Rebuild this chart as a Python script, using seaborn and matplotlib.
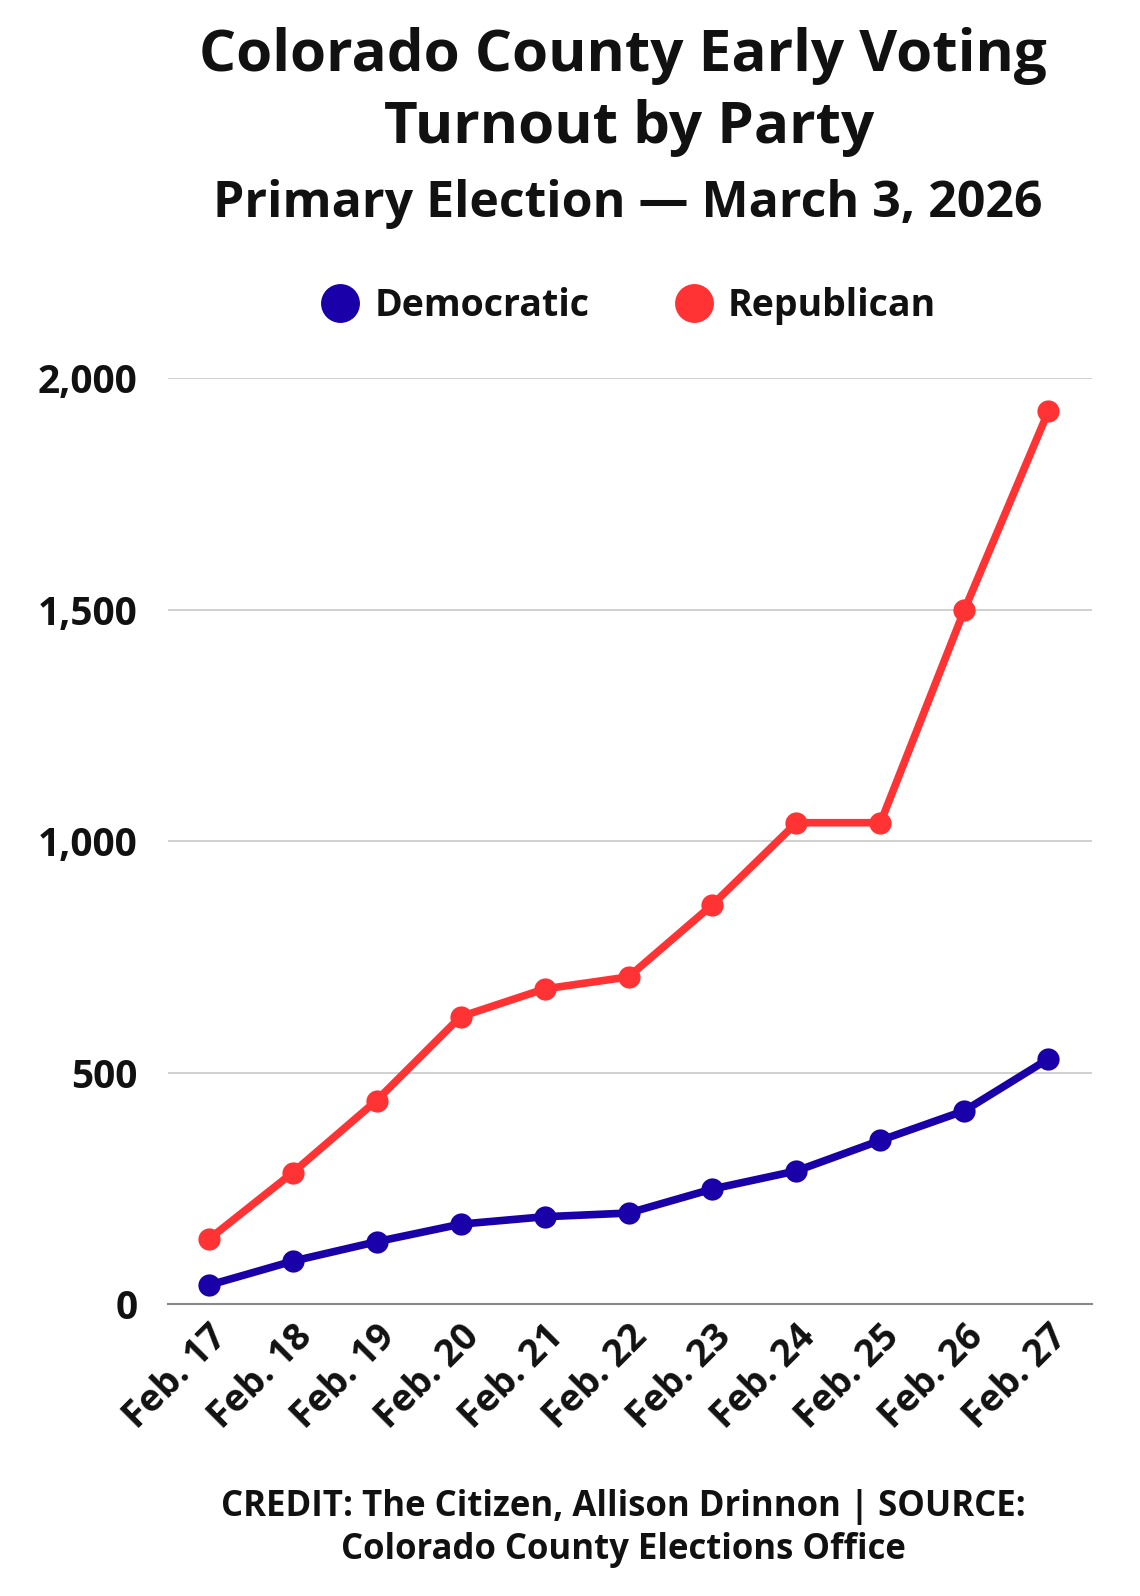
import matplotlib
matplotlib.use("Agg")
import matplotlib.pyplot as plt
from matplotlib.lines import Line2D
import seaborn as sns
import pandas as pd

dates = ["Feb. 17", "Feb. 18", "Feb. 19", "Feb. 20", "Feb. 21", "Feb. 22",
         "Feb. 23", "Feb. 24", "Feb. 25", "Feb. 26", "Feb. 27"]
democratic = [41, 93, 135, 173, 189, 197, 249, 288, 354, 418, 530]
republican = [140, 284, 440, 621, 681, 707, 863, 1040, 1040, 1500, 1929]
parties = ["Democratic", "Republican"]
colors = {"Democratic": "#1A00A8", "Republican": "#FF3333"}
yticks = [0, 500, 1000, 1500, 2000]

df = pd.DataFrame({
    "date": dates * 2,
    "x": list(range(len(dates))) * 2,
    "votes": democratic + republican,
    "party": ["Democratic"] * len(dates) + ["Republican"] * len(dates),
})

sns.set_theme(style="white")
plt.rcParams["font.family"] = ["Open Sans", "DejaVu Sans"]
plt.rcParams["font.weight"] = "bold"

fig = plt.figure(figsize=(11.4, 15.96), dpi=100)
ax = fig.add_axes([0.1476, 0.1828, 0.958 - 0.1476, 0.763 - 0.1828])

sns.lineplot(data=df, x="x", y="votes", hue="party", hue_order=parties,
             palette=colors, marker="o", markersize=16, markeredgewidth=0,
             linewidth=5.5, legend=False, ax=ax, zorder=3)

ax.set_xlim(-0.48, 10.52)
ax.set_ylim(0, 2000)
ax.set_yticks(yticks)
ax.set_yticklabels([f"{v:,}" for v in yticks])
ax.set_xticks(range(len(dates)))
ax.set_xticklabels(dates, rotation=45, ha="right", rotation_mode="anchor")
ax.tick_params(axis="y", length=0, pad=22, labelsize=28)
ax.tick_params(axis="x", length=0, pad=10, labelsize=27)
for lab in ax.get_xticklabels() + ax.get_yticklabels():
    lab.set_fontweight("bold")
    lab.set_color("#111111")

ax.set_xlabel("")
ax.set_ylabel("")
ax.grid(axis="y", color="#c8c8c8", linewidth=1.2)
ax.grid(axis="x", visible=False)
for s in ["top", "right", "left"]:
    ax.spines[s].set_visible(False)
ax.spines["bottom"].set_color("#888888")
ax.spines["bottom"].set_linewidth(1.5)
ax.set_axisbelow(True)

fig.text(0.546, 0.965, "Colorado County Early Voting", ha="center", va="center",
         fontsize=42, fontweight="bold", color="#111111")
fig.text(0.552, 0.920, "Turnout by Party", ha="center", va="center",
         fontsize=42, fontweight="bold", color="#111111")
fig.text(0.551, 0.872, "Primary Election \u2014 March 3, 2026", ha="center", va="center",
         fontsize=36, fontweight="bold", color="#111111")

handles = [Line2D([], [], linestyle="none", marker="o", markersize=28,
                  markerfacecolor=colors[p], markeredgewidth=0) for p in parties]
leg = fig.legend(handles, parties, loc="center", bbox_to_anchor=(0.55, 0.808),
                 ncol=2, frameon=False, fontsize=27, handletextpad=0.3,
                 columnspacing=2.2, handlelength=1.2)
for t in leg.get_texts():
    t.set_fontweight("bold")
    t.set_color("#111111")

fig.text(0.547, 0.056, "CREDIT: The Citizen, Allison Drinnon | SOURCE:", ha="center",
         va="center", fontsize=25, fontweight="bold", color="#111111")
fig.text(0.547, 0.029, "Colorado County Elections Office", ha="center",
         va="center", fontsize=25, fontweight="bold", color="#111111")

fig.savefig("out.png", dpi=100, facecolor="white")
